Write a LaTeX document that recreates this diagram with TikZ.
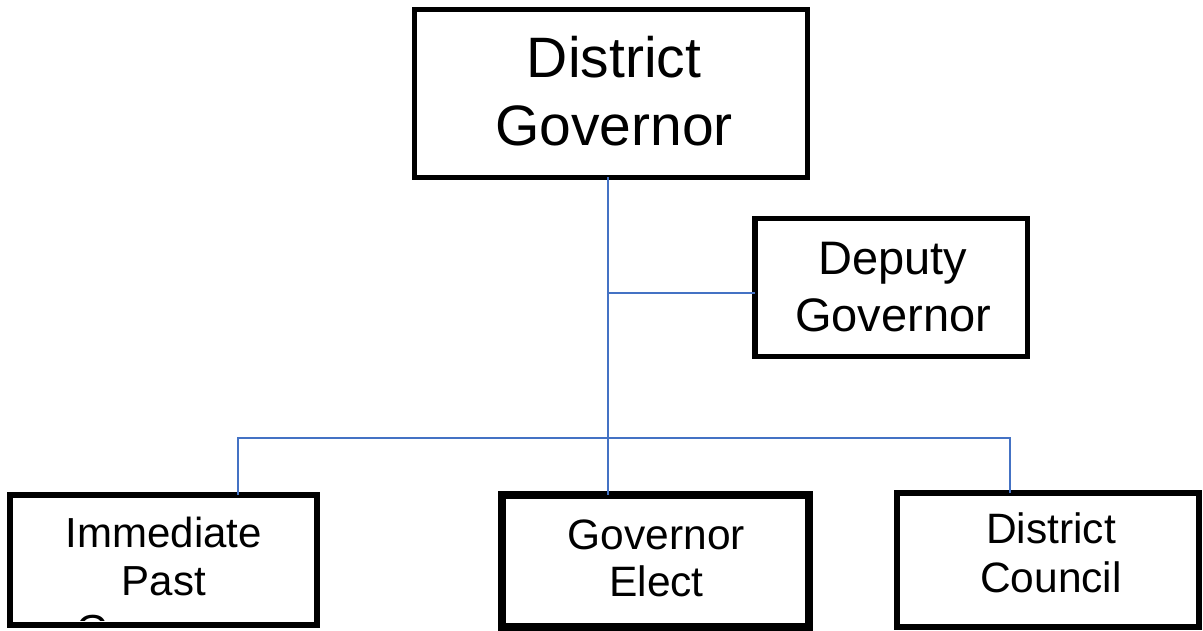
\documentclass[tikz,border=0pt]{standalone}
\usepackage{fontspec}
\setmainfont{Liberation Sans}
\definecolor{linkblue}{HTML}{4472C4}
\tikzset{
  orgbox/.style={draw=black, fill=none, inner sep=0pt, outer sep=0pt, shape=rectangle},
  orgtext/.style={inner sep=0pt, outer sep=0pt, align=center, text=black},
  linetext/.style={inner sep=0pt, outer sep=0pt, anchor=base, text=black, font=\fontsize{42}{48}\selectfont},
  link/.style={draw=linkblue, line width=2pt},
}
\begin{document}
\begin{tikzpicture}[x=1pt, y=-1pt]
\useasboundingbox (0,0) rectangle (1203,631);
% boxes
\node[orgbox, line width=5pt, minimum width=393pt, minimum height=168pt] (dg) at (611,93.5) {};
\node[orgbox, line width=5.5pt, minimum width=272.5pt, minimum height=137.5pt] (dep) at (891,287.5) {};
\node[orgbox, line width=6pt, minimum width=307pt, minimum height=130pt] (ipg) at (163.5,560) {};
\node[orgbox, line width=7.7pt, minimum width=307.3pt, minimum height=132.3pt] (ge) at (655.5,561) {};
\node[orgbox, line width=6pt, minimum width=302pt, minimum height=134pt] (dc) at (1048,560) {};
% texts
\node[orgtext, font=\fontsize{57}{68}\selectfont] (dgt) at (614,91) {District\\Governor};
\node[orgtext, font=\fontsize{47}{57}\selectfont] (dept) at (893,287.5) {Deputy\\Governor};
\begin{scope}
  \clip ([xshift=3pt,yshift=5pt]ipg.south west) rectangle ([xshift=-3pt,yshift=-3pt]ipg.north east);
  \node[linetext] (ipg1) at (164,547) {Immediate};
  \node[linetext] (ipg2) at (164,595) {Past};
  \node[linetext] (ipg3) at (164,644) {Governor};
\end{scope}
\node[orgtext, font=\fontsize{42.5}{47}\selectfont] (get) at (656.5,558.5) {Governor\\Elect};
\node[orgtext, font=\fontsize{42.5}{48.5}\selectfont] (dct) at (1051,553) {District\\Council};
% connector junctions
\coordinate (j1) at (608,293);
\coordinate (hl) at (238,438);
\coordinate (hr) at (1009.5,438);
% connectors
\draw[link] (dg.south -| j1) -- (ge.north -| j1);
\draw[link] (j1) -- (j1 -| dep.west);
\draw[link] (ipg.north -| hl) -- (hl) -- (hr) -- (dc.north -| hr);
\end{tikzpicture}
\end{document}
